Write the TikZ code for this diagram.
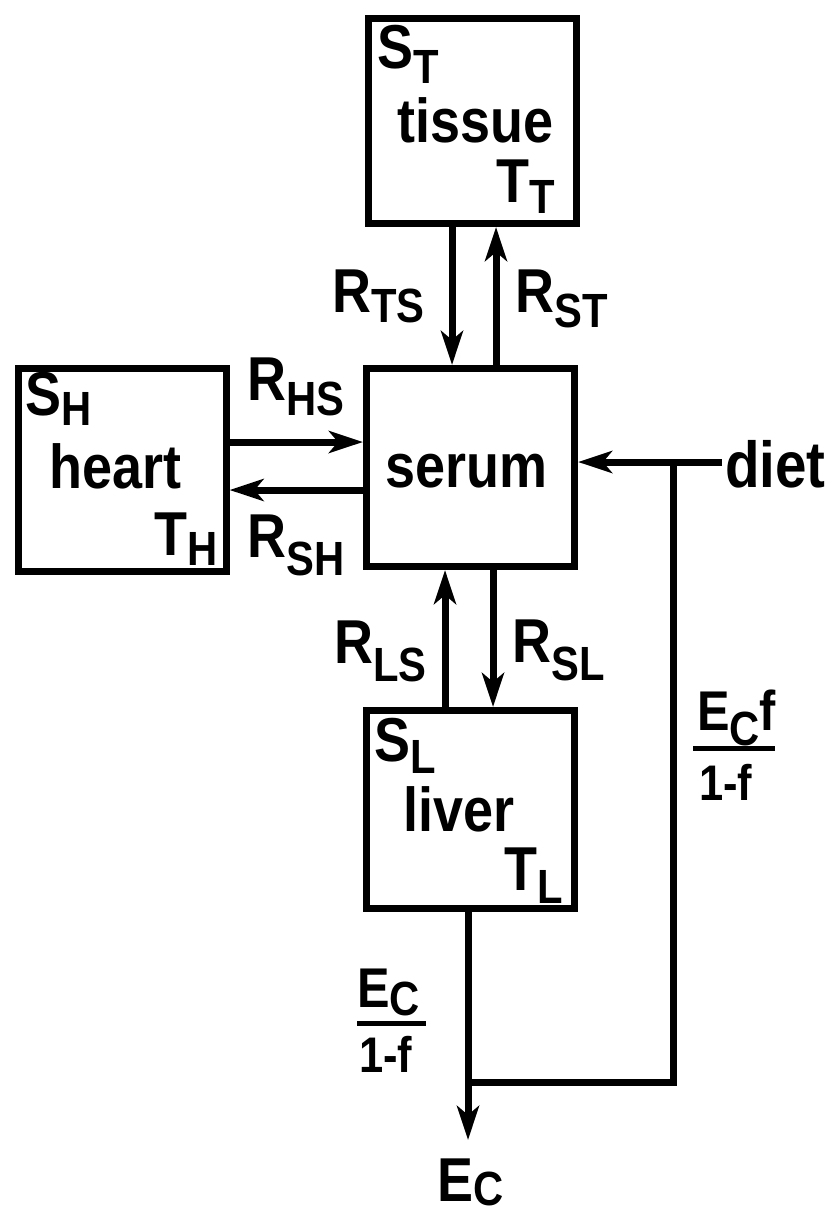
\documentclass[tikz,border=0pt]{standalone}
\usepackage{fontspec}
\setmainfont{Liberation Sans}[FakeStretch=0.87]
\usetikzlibrary{arrows.meta}
\newcommand{\msz}{\fontsize{62}{62}\selectfont}
\newcommand{\ssz}{\fontsize{48}{48}\selectfont}
\newcommand{\dsub}[2][15pt]{\raisebox{-#1}{\ssz #2}}
\begin{document}
\begin{tikzpicture}[x=1pt,y=-1pt,
  box/.style={draw, line width=7pt, minimum width=208pt, minimum height=198pt, inner sep=0pt},
  lbl/.style={anchor=base west, inner sep=0pt, font=\msz\bfseries},
  flow/.style={line width=7pt, -{Stealth[length=34pt,width=22pt,inset=9pt]}},
  plain/.style={line width=7pt, line join=miter}]
\useasboundingbox (0,0) rectangle (834,1215);

% boxes
\node[box, minimum height=205pt] (tissue) at (472.5,121) {};
\node[box] (serum) at (470.5,467.5) {};
\node[box, minimum height=203pt] (heart) at (122,470) {};
\node[box] (liver) at (470,809.5) {};

% labels inside boxes
\node[lbl] (st) at (377,68) {S\dsub{T}};
\node[lbl] (tissuet) at (397,142) {tissue};
\node[lbl] (tt) at (496,202) {T\dsub[11pt]{T}};
\node[lbl] (serumt) at (385,487) {serum};
\node[lbl] (sh) at (25,415) {S\dsub[10pt]{H}};
\node[lbl] (heartt) at (49,488) {heart};
\node[lbl] (th) at (154,555) {T\dsub[10pt]{H}};
\node[lbl] (sl) at (374,761) {S\dsub[12pt]{L}};
\node[lbl] (livert) at (403,831) {liver};
\node[lbl] (tl) at (504,890) {T\dsub[13pt]{L}};

% rate labels
\node[lbl] (rts) at (332,312) {R\dsub[10pt]{TS}};
\node[lbl] (rst) at (515,312) {R\dsub{ST}};
\node[lbl] (rhs) at (247,400) {R\dsub{HS}};
\node[lbl] (rsh) at (247,557) {R\dsub[18pt]{SH}};
\node[lbl] (rls) at (334,663) {R\dsub[18pt]{LS}};
\node[lbl] (rsl) at (512,662) {R\dsub[18pt]{SL}};
\node[lbl, font=\fontsize{65}{65}\selectfont\bfseries] (diet) at (725,487) {diet};
\node[lbl] (ec) at (437,1201) {E\dsub[4pt]{C}};

% fractions
\node[lbl, font=\fontsize{56}{56}\selectfont\bfseries] (f1num) at (357,1007) {E\dsub[8pt]{C}};
\node[lbl, font=\fontsize{50}{50}\selectfont\bfseries] (f1den) at (359,1072) {1-f};
\draw[line width=5pt] (357,1023) -- (426,1023);
\node[lbl, font=\fontsize{56}{56}\selectfont\bfseries] (f2num) at (697,730) {E\dsub[15pt]{C}f};
\node[lbl, font=\fontsize{50}{50}\selectfont\bfseries] (f2den) at (699,800) {1-f};
\draw[line width=5pt] (693,748) -- (775,748);

% helper coordinates
\coordinate (xts) at (452,0);
\coordinate (xst) at (496,0);
\coordinate (yhs) at (0,442);
\coordinate (ysh) at (0,490);
\coordinate (xls) at (445,0);
\coordinate (xsl) at (493,0);
\coordinate (ydiet) at (0,462);
\coordinate (xj) at (673,0);
\coordinate (yj) at (0,1082);
\coordinate (xec) at (468,0);
\coordinate (ectip) at (468,1140);

% connectors
\draw[flow] (tissue.south -| xts) -- (serum.north -| xts);
\draw[flow] (serum.north -| xst) -- (tissue.south -| xst);
\draw[flow] (heart.east |- yhs) -- (serum.west |- yhs);
\draw[flow] (serum.west |- ysh) -- (heart.east |- ysh);
\draw[flow] (liver.north -| xls) -- (serum.south -| xls);
\draw[flow] (serum.south -| xsl) -- (liver.north -| xsl);
\draw[flow] ([xshift=-3pt]diet.west |- ydiet) -- (serum.east |- ydiet);
\draw[plain] (xj |- ydiet) -- (xj |- yj) -- (xec |- yj);
\draw[flow] (liver.south -| xec) -- (ectip);
\end{tikzpicture}
\end{document}
